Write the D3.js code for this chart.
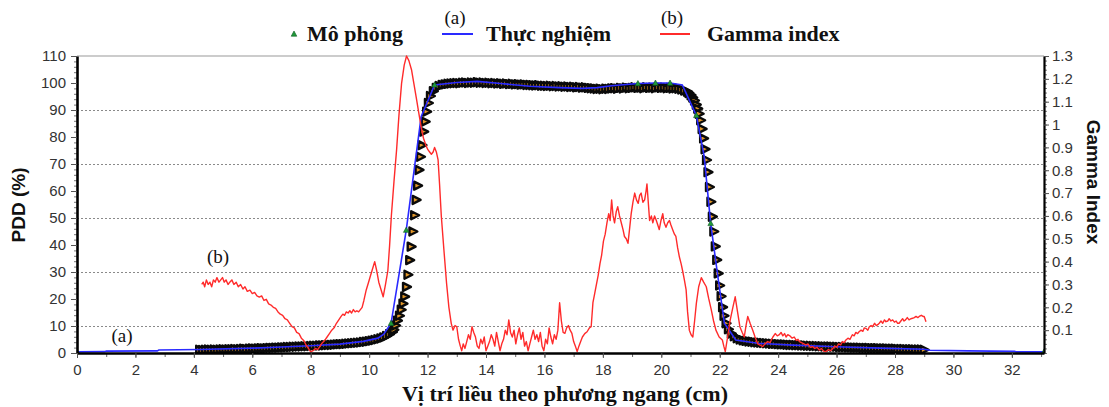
<!DOCTYPE html>
<html>
<head>
<meta charset="utf-8">
<script src="https://cdn.jsdelivr.net/npm/d3@7/dist/d3.min.js"></script>
<style>
  body { margin: 0; background: #fff; }
  svg { display: block; }
</style>
</head>
<body>
<svg id="chart" width="1109" height="407"></svg>
<script>
// Measured dose profile (Thực nghiệm): [position cm, PDD %]
const measured = [
  [0,0.4],[0.95,0.5],[1.0,0.7],[2.75,0.8],[2.8,1.1],[4.2,1.3],[6,1.8],[7,2.2],[8,2.7],[9,3.3],
  [9.8,4.3],[10.3,5.5],[10.5,7],[10.75,11],[11.27,45.5],[11.78,87.5],[12.24,99.3],[13,100.2],
  [13.7,100.6],[14.5,99.8],[15.5,98.8],[16.5,98.3],[17.3,98],[17.8,98.3],[18.3,99],[19.2,99.8],
  [19.8,100],[20.3,100],[20.72,99.3],[21.2,88],[21.47,72.7],[21.69,48],[21.92,29.6],[22.16,11],
  [22.55,4.8],[23.3,3.6],[24.5,2.9],[26,2.3],[27.5,1.8],[29,1.4],[29.2,1.0],[30.5,0.8],
  [32.1,0.6],[32.15,0.4],[33.1,0.4]
];

// Measured points that carry a marker
const markedX = [0, 10.75, 11.27, 12.24, 19.2, 19.8, 20.3, 21.2, 21.69, 33.1];

// Simulated dose profile (Mô phỏng): [position cm, PDD %]
const simulated = [
  [4.2,1.2],[4.3,1.1],[4.4,1.2],[4.5,1.3],[4.6,1.2],[4.7,1.3],[4.8,1.2],[4.9,1.3],[5.0,1.4],[5.1,1.3],
  [5.2,1.4],[5.3,1.4],[5.4,1.5],[5.5,1.4],[5.6,1.5],[5.7,1.6],[5.8,1.5],[5.9,1.6],[6.0,1.7],[6.1,1.6],
  [6.2,1.7],[6.3,1.8],[6.4,1.7],[6.5,1.8],[6.6,1.9],[6.7,1.9],[6.8,2.0],[6.9,2.0],[7.0,2.1],[7.1,2.1],
  [7.2,2.2],[7.3,2.2],[7.4,2.3],[7.5,2.3],[7.6,2.4],[7.7,2.4],[7.8,2.5],[7.9,2.5],[8.0,2.6],[8.1,2.7],
  [8.2,2.7],[8.3,2.8],[8.4,2.8],[8.5,2.9],[8.6,3.0],[8.7,3.0],[8.8,3.1],[8.9,3.2],[9.0,3.3],[9.1,3.3],
  [9.2,3.4],[9.3,3.5],[9.4,3.6],[9.5,3.7],[9.6,3.8],[9.7,3.9],[9.8,4.1],[9.9,4.2],[10.0,4.4],[10.1,4.6],
  [10.2,4.8],[10.3,5.1],[10.4,5.4],[10.5,5.8],[10.6,6.3],[10.7,7.0],[10.8,7.8],
  [10.85,8.6],[10.91,10.2],[10.97,12.0],[11.04,13.8],[11.1,16.0],[11.16,18.3],[11.22,20.9],[11.28,24.5],
  [11.33,29.0],[11.39,34.4],[11.44,39.4],[11.5,45.0],[11.56,51.0],[11.61,56.7],[11.66,62.0],[11.71,67.8],
  [11.76,72.7],[11.81,77.0],[11.87,82.0],[11.92,85.7],[11.97,89.4],[12.03,92.6],[12.1,95.2],[12.2,97.0],
  [12.3,98.2],[12.4,98.9],[12.5,99.3],
  [12.6,99.5],[12.7,99.7],[12.8,99.8],[12.9,99.9],[13.0,100.0],[13.1,99.9],[13.2,100.1],[13.3,100.2],
  [13.4,100.0],[13.5,100.2],[13.6,100.1],[13.7,100.3],[13.8,100.1],[13.9,100.2],[14.0,100.0],[14.1,100.1],
  [14.2,99.9],[14.3,100.0],[14.4,99.8],[14.5,99.9],[14.6,99.7],[14.7,99.8],[14.8,99.6],[14.9,99.7],
  [15.0,99.5],[15.1,99.6],[15.2,99.4],[15.3,99.5],[15.4,99.3],[15.5,99.3],[15.6,99.2],[15.7,99.1],
  [15.8,99.2],[15.9,99.0],[16.0,99.0],[16.1,98.9],[16.2,99.0],[16.3,98.8],[16.4,98.9],[16.5,98.7],
  [16.6,98.8],[16.7,98.6],[16.8,98.7],[16.9,98.5],[17.0,98.6],[17.1,98.4],[17.2,98.5],[17.3,98.3],
  [17.4,98.4],[17.5,98.2],[17.6,98.1],[17.7,98.0],[17.8,97.8],[17.9,97.9],[18.0,97.7],[18.1,97.9],
  [18.2,97.8],[18.3,98.0],[18.4,98.1],[18.5,97.9],[18.6,98.2],[18.7,98.0],[18.8,98.3],[18.9,98.1],
  [19.0,98.2],[19.1,98.4],[19.2,98.2],[19.3,98.3],[19.4,98.1],[19.5,98.4],[19.6,98.2],[19.7,98.3],
  [19.8,98.1],[19.9,98.4],[20.0,98.2],[20.1,98.3],[20.2,98.1],[20.3,98.2],[20.4,98.0],[20.5,98.1],
  [20.6,97.9],[20.7,97.6],[20.8,97.2],
  [20.9,96.8],[20.95,96.3],[21.02,95.5],[21.08,94.6],[21.14,93.5],[21.2,92.0],[21.25,90.5],[21.3,88.6],
  [21.35,86.2],[21.4,83.0],[21.45,79.5],[21.5,75.5],[21.55,71.5],[21.6,67.0],[21.65,61.5],[21.7,56.0],
  [21.75,50.5],[21.8,45.0],[21.85,39.5],[21.9,34.5],[21.95,29.5],[22.0,25.0],[22.05,21.0],[22.1,17.0],
  [22.15,13.8],[22.22,11.0],[22.3,8.8],[22.4,7.2],[22.5,6.2],[22.6,5.5],[22.7,5.0],
  [22.8,4.7],[22.9,4.5],[23.0,4.3],[23.1,4.2],[23.2,4.0],[23.3,3.9],[23.4,3.8],[23.5,3.7],[23.6,3.6],
  [23.7,3.5],[23.8,3.4],[23.9,3.4],[24.0,3.3],[24.1,3.2],[24.2,3.2],[24.3,3.1],[24.4,3.0],[24.5,3.0],
  [24.6,2.9],[24.7,2.9],[24.8,2.8],[24.9,2.8],[25.0,2.7],[25.1,2.7],[25.2,2.6],[25.3,2.6],[25.4,2.5],
  [25.5,2.5],[25.6,2.4],[25.7,2.4],[25.8,2.4],[25.9,2.3],[26.0,2.3],[26.1,2.2],[26.2,2.2],[26.3,2.2],
  [26.4,2.1],[26.5,2.1],[26.6,2.0],[26.7,2.0],[26.8,2.0],[26.9,1.9],[27.0,1.9],[27.1,1.9],[27.2,1.8],
  [27.3,1.8],[27.4,1.8],[27.5,1.7],[27.6,1.7],[27.7,1.7],[27.8,1.6],[27.9,1.6],[28.0,1.6],[28.1,1.5],
  [28.2,1.5],[28.3,1.5],[28.4,1.4],[28.5,1.4],[28.6,1.4],[28.7,1.3],[28.8,1.3],[28.9,1.3],[29.0,1.2]
];

// Gamma index along the profile: [position cm, gamma]
const gamma = [
  [4.27,0.30],[4.32,0.31],[4.37,0.29],[4.43,0.32],[4.49,0.30],[4.55,0.31],[4.61,0.29],[4.67,0.32],[4.73,0.31],[4.79,0.33],
  [4.86,0.31],[4.92,0.32],[4.98,0.33],[5.04,0.31],[5.1,0.32],[5.17,0.30],[5.23,0.31],[5.3,0.32],[5.37,0.30],[5.45,0.31],
  [5.52,0.29],[5.6,0.30],[5.68,0.28],[5.75,0.29],[5.83,0.27],[5.92,0.275],[6.0,0.26],[6.08,0.265],[6.16,0.25],[6.24,0.245],
  [6.32,0.25],[6.4,0.23],[6.48,0.235],[6.56,0.215],[6.64,0.21],[6.72,0.2],[6.8,0.195],[6.88,0.18],[6.96,0.17],[7.04,0.165],
  [7.12,0.15],[7.2,0.145],[7.28,0.13],[7.36,0.115],[7.44,0.11],[7.52,0.09],[7.6,0.085],[7.68,0.065],[7.76,0.055],[7.84,0.035],
  [7.92,0.02],[8.0,0.005],[8.08,0.01],[8.16,0.02],[8.24,0.015],[8.32,0.03],[8.4,0.045],[8.48,0.055],[8.56,0.07],[8.64,0.085],
  [8.72,0.1],[8.8,0.11],[8.88,0.13],[8.96,0.145],[9.04,0.16],[9.1,0.17],[9.16,0.165],[9.22,0.18],[9.28,0.175],[9.34,0.185],
  [9.4,0.175],[9.46,0.19],[9.52,0.18],[9.58,0.185],[9.64,0.18],[9.7,0.19],[9.76,0.2],[9.82,0.23],[9.9,0.276],[9.98,0.31],
  [10.05,0.34],[10.12,0.37],[10.19,0.40],[10.26,0.36],[10.33,0.31],[10.4,0.28],[10.48,0.246],[10.56,0.3],[10.64,0.36],[10.7,0.47],
  [10.76,0.6],[10.85,0.75],[10.94,0.89],[11.02,1.04],[11.11,1.18],[11.2,1.26],[11.28,1.3],[11.36,1.28],[11.45,1.24],[11.53,1.18],
  [11.61,1.12],[11.7,1.05],[11.78,0.99],[11.86,0.94],[11.94,0.91],[12.01,0.89],[12.07,0.88],[12.13,0.87],[12.19,0.88],[12.24,0.9],
  [12.3,0.88],[12.36,0.845],[12.41,0.74],[12.47,0.6],[12.56,0.45],[12.65,0.305],[12.73,0.2],[12.81,0.13],[12.87,0.1],[12.94,0.12],
  [13.0,0.115],[13.06,0.06],[13.12,0.03],[13.17,0.01],[13.22,0.04],[13.28,0.02],[13.34,0.05],[13.4,0.08],[13.46,0.06],[13.52,0.115],
  [13.58,0.09],[13.64,0.07],[13.7,0.03],[13.76,0.02],[13.82,0.06],[13.88,0.04],[13.94,0.07],[14.0,0.01],[14.06,0.03],[14.12,0.05],
  [14.18,0.08],[14.24,0.06],[14.3,0.03],[14.36,0.09],[14.42,0.05],[14.48,0.01],[14.54,0.04],[14.6,0.06],[14.66,0.1],[14.72,0.08],
  [14.78,0.145],[14.84,0.09],[14.9,0.07],[14.96,0.1],[15.02,0.04],[15.08,0.08],[15.14,0.11],[15.2,0.06],[15.26,0.09],[15.32,0.03],
  [15.38,0.05],[15.44,0.01],[15.5,0.04],[15.56,0.07],[15.62,0.1],[15.68,0.06],[15.74,0.08],[15.8,0.05],[15.86,0.09],[15.92,0.03],
  [15.98,0.01],[16.04,0.06],[16.1,0.04],[16.16,0.11],[16.22,0.07],[16.28,0.04],[16.34,0.08],[16.4,0.06],[16.46,0.1],[16.52,0.22],
  [16.58,0.14],[16.64,0.09],[16.7,0.086],[16.76,0.11],[16.82,0.12],[16.88,0.1],[16.94,0.086],[17.0,0.05],[17.06,0.03],[17.12,0.006],
  [17.18,0.03],[17.24,0.05],[17.3,0.07],[17.38,0.085],[17.46,0.093],[17.54,0.11],[17.6,0.115],[17.66,0.22],[17.72,0.26],[17.78,0.3],
  [17.84,0.34],[17.9,0.39],[17.96,0.43],[18.02,0.49],[18.08,0.52],[18.14,0.57],[18.2,0.61],[18.25,0.58],[18.3,0.67],[18.35,0.6],
  [18.4,0.57],[18.46,0.62],[18.51,0.64],[18.57,0.6],[18.63,0.57],[18.69,0.54],[18.74,0.51],[18.8,0.5],[18.86,0.48],[18.92,0.55],
  [18.97,0.61],[19.03,0.66],[19.09,0.70],[19.15,0.67],[19.21,0.655],[19.26,0.69],[19.31,0.70],[19.37,0.66],[19.43,0.67],[19.48,0.71],
  [19.51,0.74],[19.56,0.65],[19.6,0.58],[19.66,0.6],[19.71,0.57],[19.77,0.6],[19.83,0.58],[19.88,0.56],[19.93,0.54],[19.99,0.58],
  [20.05,0.61],[20.1,0.57],[20.16,0.55],[20.22,0.57],[20.28,0.58],[20.33,0.56],[20.39,0.54],[20.45,0.52],[20.5,0.51],[20.56,0.46],
  [20.62,0.42],[20.68,0.39],[20.73,0.36],[20.79,0.32],[20.85,0.276],[20.9,0.18],[20.96,0.1],[21.02,0.08],[21.08,0.07],[21.14,0.14],
  [21.2,0.217],[21.28,0.29],[21.37,0.33],[21.45,0.31],[21.54,0.29],[21.62,0.24],[21.71,0.19],[21.79,0.14],[21.87,0.1],[21.98,0.07],
  [22.09,0.057],[22.14,0.03],[22.19,0.006],[22.27,0.07],[22.36,0.145],[22.45,0.2],[22.53,0.246],[22.61,0.18],[22.69,0.115],[22.77,0.09],
  [22.84,0.07],[22.9,0.12],[22.96,0.16],[23.04,0.13],[23.13,0.1],[23.21,0.07],[23.3,0.04],[23.38,0.035],[23.47,0.028],[23.55,0.04],
  [23.64,0.05],[23.72,0.045],[23.82,0.07],[23.9,0.085],[23.97,0.075],[24.04,0.08],[24.1,0.09],[24.16,0.075],[24.22,0.085],[24.27,0.07],
  [24.33,0.08],[24.4,0.075],[24.48,0.065],[24.55,0.07],[24.62,0.055],[24.68,0.06],[24.73,0.05],[24.8,0.045],[24.88,0.04],[24.95,0.035],
  [25.02,0.04],[25.1,0.025],[25.18,0.028],[25.25,0.02],[25.33,0.025],[25.41,0.013],[25.48,0.02],[25.56,0.008],[25.64,0.006],[25.72,0.015],
  [25.8,0.01],[25.87,0.02],[25.94,0.03],[26.0,0.025],[26.07,0.04],[26.14,0.035],[26.2,0.05],[26.26,0.045],[26.32,0.057],[26.39,0.065],
  [26.46,0.06],[26.54,0.08],[26.6,0.075],[26.66,0.09],[26.72,0.085],[26.77,0.093],[26.84,0.1],[26.9,0.095],[26.95,0.11],[27.0,0.108],
  [27.07,0.1],[27.12,0.115],[27.18,0.12],[27.23,0.115],[27.3,0.13],[27.36,0.12],[27.42,0.125],[27.46,0.13],[27.52,0.14],[27.58,0.13],
  [27.64,0.145],[27.69,0.137],[27.75,0.14],[27.8,0.15],[27.86,0.14],[27.92,0.145],[27.98,0.135],[28.04,0.14],[28.09,0.13],[28.14,0.13],
  [28.2,0.14],[28.26,0.15],[28.31,0.14],[28.36,0.145],[28.42,0.155],[28.48,0.145],[28.54,0.15],[28.6,0.152],[28.66,0.155],[28.72,0.16],
  [28.78,0.155],[28.83,0.16],[28.9,0.165],[28.96,0.16],[29.0,0.16],[29.06,0.137]
];

// Axis ticks
const xTicks = [0,2,4,6,8,10,12,14,16,18,20,22,24,26,28,30,32];
const pddTicks = [0,10,20,30,40,50,60,70,80,90,100,110];
const gammaTicks = [0.1,0.2,0.3,0.4,0.5,0.6,0.7,0.8,0.9,1,1.1,1.2,1.3];
const gridValues = [10,30,50,70,90];

const svg = d3.select('#chart');
const W = 1109, H = 407;
const L = 77, R = 1044, T = 56, B = 353;

const x = d3.scaleLinear().domain([0, 33.1]).range([L, R]);
const y = d3.scaleLinear().domain([0, 110]).range([B, T]);
const yg = d3.scaleLinear().domain([0, 1.3]).range([B, T]);

svg.append('rect').attr('width', W).attr('height', H).attr('fill', '#fff');

svg.append('defs').append('clipPath').attr('id', 'plot')
  .append('rect').attr('x', L).attr('y', T - 1).attr('width', R - L).attr('height', B - T + 1);

// dotted horizontal grid
svg.append('g').selectAll('line').data(gridValues).join('line')
  .attr('x1', L).attr('x2', R)
  .attr('y1', d => y(d) + 0.5).attr('y2', d => y(d) + 0.5)
  .attr('stroke', '#8a8a8a').attr('stroke-width', 1).attr('stroke-dasharray', '2,2');

// top frame
svg.append('line').attr('x1', L).attr('x2', R).attr('y1', T).attr('y2', T)
  .attr('stroke', '#999').attr('stroke-width', 1.2);

const plot = svg.append('g').attr('clip-path', 'url(#plot)');

// simulated profile: right-pointing triangle markers
const tri = 'M-3.5,-4L4.4,0L-3.5,4Z';
plot.append('g').selectAll('path').data(simulated).join('path')
  .attr('d', tri)
  .attr('transform', d => `translate(${x(d[0])},${y(d[1])})`)
  .attr('fill', '#e0962a').attr('stroke', '#0a0a0a').attr('stroke-width', 2.4)
  .attr('stroke-linejoin', 'round');

// measured profile
const lineM = d3.line().x(d => x(d[0])).y(d => y(d[1]));
plot.append('path').datum(measured).attr('d', lineM)
  .attr('fill', 'none').attr('stroke', '#2a2aff').attr('stroke-width', 1.6);

const upTri = 'M0,-3L2.8,2.2L-2.8,2.2Z';
plot.append('g').selectAll('path')
  .data(measured.filter(d => markedX.includes(d[0]))).join('path')
  .attr('d', upTri)
  .attr('transform', d => `translate(${x(d[0])},${y(d[1])})`)
  .attr('fill', '#1f9a3a').attr('stroke', '#0d5a20').attr('stroke-width', 0.6);

// gamma index
const lineG = d3.line().x(d => x(d[0])).y(d => yg(d[1]));
plot.append('path').datum(gamma).attr('d', lineG)
  .attr('fill', 'none').attr('stroke', '#ff2b2b').attr('stroke-width', 1.4)
  .attr('stroke-linejoin', 'round');

// axes
function styleAxis(g, width) {
  g.select('.domain').attr('stroke', '#000').attr('stroke-width', width);
  g.selectAll('.tick line').attr('stroke', '#555');
  g.selectAll('.tick text').attr('fill', '#333')
    .style('font-family', '"Liberation Sans", Arial, sans-serif').style('font-size', '15px');
}

// minor ticks first
svg.append('g').attr('transform', `translate(${L},0)`)
  .call(d3.axisLeft(y).tickValues(d3.range(0, 111, 2)).tickSize(3).tickFormat(''))
  .call(g => { g.select('.domain').remove(); g.selectAll('line').attr('stroke', '#777'); });
svg.append('g').attr('transform', `translate(${R},0)`)
  .call(d3.axisRight(yg).tickValues(d3.range(0, 1.3001, 0.02)).tickSize(3).tickFormat(''))
  .call(g => { g.select('.domain').remove(); g.selectAll('line').attr('stroke', '#777'); });
svg.append('g').attr('transform', `translate(0,${B})`)
  .call(d3.axisBottom(x).tickValues(d3.range(0, 34, 1)).tickSize(4).tickFormat(''))
  .call(g => { g.select('.domain').remove(); g.selectAll('line').attr('stroke', '#666'); });

svg.append('g').attr('transform', `translate(${L},0)`)
  .call(d3.axisLeft(y).tickValues(pddTicks).tickSize(6).tickPadding(5).tickSizeOuter(0))
  .call(g => styleAxis(g, 2.6));
svg.append('g').attr('transform', `translate(${R},0)`)
  .call(d3.axisRight(yg).tickValues(gammaTicks).tickSize(5).tickPadding(3).tickSizeOuter(0)
    .tickFormat(d => d === 1 ? '1' : d3.format('.1f')(d)))
  .call(g => styleAxis(g, 2.2));
svg.append('g').attr('transform', `translate(0,${B})`)
  .call(d3.axisBottom(x).tickValues(xTicks).tickSize(5).tickPadding(6).tickSizeOuter(0))
  .call(g => styleAxis(g, 2.6));

// axis titles
svg.append('text').attr('transform', `translate(25,205) rotate(-90)`)
  .attr('text-anchor', 'middle')
  .style('font-family', '"Liberation Sans", Arial, sans-serif').style('font-weight', 'bold')
  .style('font-size', '19px').attr('fill', '#111').text('PDD (%)');

svg.append('text').attr('transform', `translate(1087,182) rotate(90)`)
  .attr('text-anchor', 'middle')
  .style('font-family', '"Liberation Sans", Arial, sans-serif').style('font-weight', 'bold')
  .style('font-size', '19px').attr('fill', '#111').text('Gamma Index');

const serif = '"Liberation Serif", "Times New Roman", serif';
svg.append('text').attr('x', 565).attr('y', 401).attr('text-anchor', 'middle')
  .style('font-family', serif).style('font-weight', 'bold').style('font-size', '22px')
  .attr('fill', '#111').text('Vị trí liều theo phương ngang (cm)');

// legend
const legend = svg.append('g');
legend.append('path').attr('d', upTri).attr('transform', 'translate(294,34)')
  .attr('fill', '#1f9a3a').attr('stroke', '#0d5a20').attr('stroke-width', 0.6);
legend.append('text').attr('x', 307).attr('y', 41)
  .style('font-family', serif).style('font-weight', 'bold').style('font-size', '22px')
  .attr('fill', '#111').text('Mô phỏng');
legend.append('line').attr('x1', 442).attr('x2', 473).attr('y1', 34).attr('y2', 34)
  .attr('stroke', '#2a2aff').attr('stroke-width', 2);
legend.append('text').attr('x', 486).attr('y', 41)
  .style('font-family', serif).style('font-weight', 'bold').style('font-size', '22px')
  .attr('fill', '#111').text('Thực nghiệm');
legend.append('line').attr('x1', 660).attr('x2', 690).attr('y1', 34).attr('y2', 34)
  .attr('stroke', '#ff2b2b').attr('stroke-width', 2);
legend.append('text').attr('x', 707).attr('y', 41)
  .style('font-family', serif).style('font-weight', 'bold').style('font-size', '22px')
  .attr('fill', '#111').text('Gamma index');

// curve annotations
const notes = [
  { t: '(a)', x: 455, y: 24 },
  { t: '(b)', x: 672, y: 24 },
  { t: '(b)', x: 218, y: 263 },
  { t: '(a)', x: 122, y: 342 }
];
svg.append('g').selectAll('text').data(notes).join('text')
  .attr('x', d => d.x).attr('y', d => d.y).attr('text-anchor', 'middle')
  .style('font-family', serif).style('font-size', '19px').attr('fill', '#111')
  .text(d => d.t);
</script>
</body>
</html>
